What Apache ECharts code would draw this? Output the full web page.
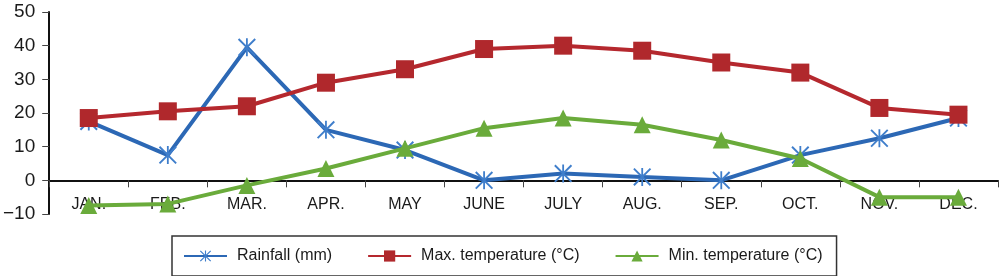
<!DOCTYPE html>
<html>
<head>
<meta charset="utf-8">
<style>
  html, body { margin: 0; padding: 0; background: #fff; }
  #chart { width: 1000px; height: 276px; }
</style>
</head>
<body>
<div id="chart"></div>
<script src="https://cdn.jsdelivr.net/npm/echarts@6/dist/echarts.min.js"></script>
<script>
    // values
    var months = ['JAN.', 'FEB.', 'MAR.', 'APR.', 'MAY', 'JUNE', 'JULY', 'AUG.', 'SEP.', 'OCT.', 'NOV.', 'DEC.'];
    var rainfall = [17.5, 7.5, 39.5, 15, 9, 0, 2, 1, 0, 7.5, 12.5, 18.5];
    var maxTemp = [18.5, 20.5, 22, 29, 33, 39, 40, 38.5, 35, 32, 21.5, 19.5];
    var minTemp = [-7.5, -7, -1.5, 3.5, 9.5, 15.5, 18.5, 16.5, 12, 6.5, -5, -5];

    var asterisk = 'path://M9 0L11 0L11 20L9 20Z M0 1.5L1.5 0L20 18.5L18.5 20Z M18.5 0L20 1.5L1.5 20L0 18.5Z';
    var font = '"Liberation Sans", Arial, sans-serif';

    var chart = echarts.init(document.getElementById('chart'));
    chart.setOption({
        animation: false,
        textStyle: { fontFamily: font },
        grid: { left: 48, right: 2, top: 12, bottom: 62 },
        legend: {
            left: 172,
            top: 236,
            padding: [12, 14, 12, 11],
            borderColor: '#333',
            borderWidth: 1.5,
            itemWidth: 43,
            itemHeight: 14,
            itemGap: 35,
            textStyle: { fontSize: 16, color: '#1a1a1a', fontFamily: font, padding: [0, 0, 0, 5] },
            data: ['Rainfall (mm)', 'Max. temperature (°C)', 'Min. temperature (°C)']
        },
        xAxis: {
            type: 'category',
            data: months,
            boundaryGap: true,
            axisLine: { onZero: true, lineStyle: { color: '#111', width: 2 } },
            axisTick: { show: true, length: 7, lineStyle: { color: '#444', width: 1 } },
            axisLabel: { fontSize: 16, color: '#1a1a1a', margin: -17, fontFamily: font },
            splitLine: { show: false }
        },
        yAxis: {
            type: 'value',
            min: -10,
            max: 50,
            interval: 10,
            axisLine: { show: true, lineStyle: { color: '#111', width: 2 } },
            axisTick: { show: true, length: 7, lineStyle: { color: '#444', width: 1 } },
            axisLabel: {
                fontSize: 19, color: '#1a1a1a', margin: 14, fontFamily: font,
                formatter: function (v) { return String(v).replace('-', '\u2212'); }
            },
            splitLine: { show: false }
        },
        series: [
            {
                name: 'Rainfall (mm)',
                type: 'line',
                data: rainfall,
                symbol: asterisk,
                symbolSize: 18,
                lineStyle: { color: '#2c68b5', width: 4 },
                itemStyle: { color: '#3f7ecb' },
                z: 3
            },
            {
                name: 'Max. temperature (°C)',
                type: 'line',
                data: maxTemp,
                symbol: 'rect',
                symbolSize: 18,
                lineStyle: { color: '#b5282e', width: 4 },
                itemStyle: { color: '#b0282c' },
                z: 4
            },
            {
                name: 'Min. temperature (°C)',
                type: 'line',
                data: minTemp,
                symbol: 'triangle',
                symbolSize: 17,
                lineStyle: { color: '#6aab3b', width: 4 },
                itemStyle: { color: '#6aab3b' },
                z: 5
            }
        ]
    });
</script>
</body>
</html>
